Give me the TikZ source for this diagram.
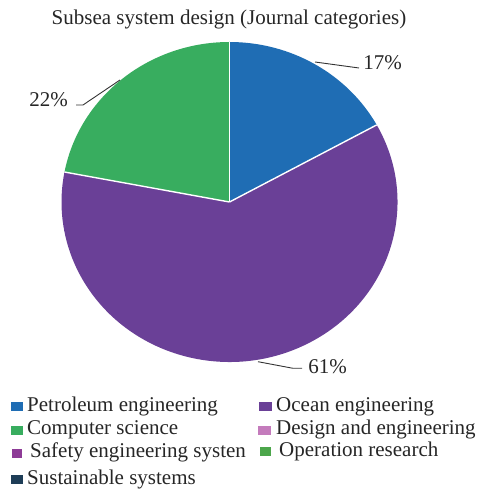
\documentclass[tikz,border=0pt]{standalone}
\usepackage{fontspec}
\setmainfont{Liberation Serif}
\definecolor{cpetro}{HTML}{1F6DB4}
\definecolor{cocean}{HTML}{6A4097}
\definecolor{ccomp}{HTML}{38AD5F}
\definecolor{cdesign}{HTML}{C47BBC}
\definecolor{csafety}{HTML}{8E3B97}
\definecolor{coper}{HTML}{4CA64B}
\definecolor{csust}{HTML}{1E3D57}
\tikzset{
  txt/.style={inner sep=0pt, font=\fontsize{21}{24}\selectfont, text=black!85},
  leg/.style={txt, anchor=base west},
  sw/.style={minimum width=#1, minimum height=9pt, inner sep=0pt, anchor=south west},
  lead/.style={draw=black!80, line width=0.9pt},
  slice/.style={draw=white, line width=1.4pt, line join=round}
}
\begin{document}
\begin{tikzpicture}[x=1pt,y=1pt]
\useasboundingbox (0,0) rectangle (479,490);
\coordinate (C) at (229.5,288);
% slices
\fill[cpetro] (C) -- ++(90:168 and 160) arc[start angle=90,end angle=28.8,x radius=168,y radius=160] -- cycle;
\fill[cocean] (C) -- ++(28.8:168 and 160) arc[start angle=28.8,end angle=-190.8,x radius=168,y radius=160] -- cycle;
\fill[ccomp] (C) -- ++(169.2:168 and 160) arc[start angle=169.2,end angle=90,x radius=168,y radius=160] -- cycle;
\draw[slice] (C) -- ++(90:168 and 160);
\draw[slice] (C) -- ++(28.8:168 and 160);
\draw[slice] (C) -- ++(169.2:168 and 160);
% title
\node[txt] (title) at (229,471) {Subsea system design (Journal categories)};
% percentage labels
\node[txt] (p17) at (382.5,427) {17\%};
\node[txt] (p22) at (48.5,390.5) {22\%};
\node[txt] (p61) at (327.5,123.5) {61\%};
\coordinate (a17) at (315,428);
\coordinate (e17) at (359,422);
\draw[lead] (a17) -- (e17);
\coordinate (a22) at (120,410);
\coordinate (k22) at (83,385);
\coordinate (e22) at (76,385);
\draw[lead] (a22) -- (k22) -- (e22);
\coordinate (a61) at (258,128.3);
\coordinate (k61) at (293,121.7);
\coordinate (e61) at (302,121.7);
\draw[lead] (a61) -- (k61) -- (e61);
% legend
\node[sw=12pt, fill=cpetro] (s1) at (11,78.3) {};
\node[leg] (l1) at (27,78.3) {Petroleum engineering};
\node[sw=12pt, fill=ccomp] (s2) at (11,55) {};
\node[leg] (l2) at (27,55) {Computer science};
\node[sw=10pt, fill=csafety] (s3) at (11.7,32) {};
\node[leg] (l3) at (30,32) {Safety engineering systen};
\node[sw=12pt, fill=csust] (s4) at (11,5.7) {};
\node[leg] (l4) at (27,5.7) {Sustainable systems};
\node[sw=12.5pt, fill=cocean] (s5) at (259,78.3) {};
\node[leg] (l5) at (276,78.3) {Ocean engineering};
\node[sw=13pt, fill=cdesign] (s6) at (258,55) {};
\node[leg] (l6) at (276,55) {Design and engineering};
\node[sw=10.5pt, fill=coper] (s7) at (260,33.3) {};
\node[leg] (l7) at (279,33.3) {Operation research};
\end{tikzpicture}
\end{document}
